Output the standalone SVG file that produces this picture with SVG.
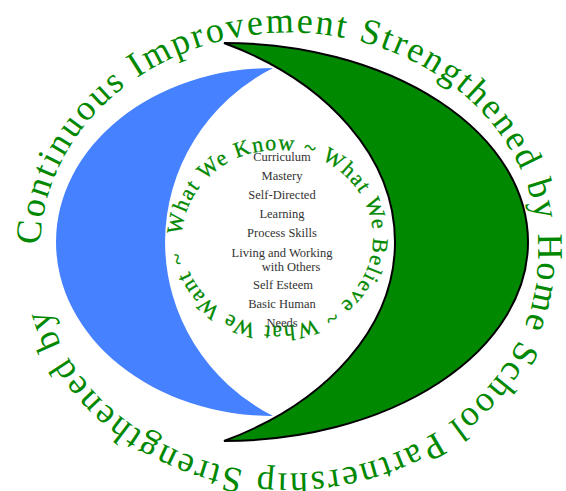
<svg xmlns="http://www.w3.org/2000/svg" width="566" height="491" viewBox="0 0 566 491">
<style>
.ring{font-family:"Liberation Serif","Times New Roman",serif;fill:#008800}
.outer{font-size:36px;letter-spacing:2.3px}
.inner{font-size:22px;letter-spacing:1.5px;stroke:#008800;stroke-width:0.3px}
.list{font-family:"Liberation Serif","Times New Roman",serif;font-size:12.5px;fill:#333;text-anchor:middle}
</style>
<defs>
<path id="outerPath" d="M40.2,245 A249,217 0 1 1 537.8,261 A249,217 0 1 1 40.2,245"/>
<path id="innerPath" d="M182,238 A95.5,88 0 1 1 373,238 A95.5,88 0 1 1 182,238"/>
</defs>
<rect width="566" height="491" fill="#fff"/>
<g id="blue-crescent">
<path d="M273,68 A217,174 0 0 0 273,416 A200,196 0 0 1 273,68 Z" fill="#4682FF"/>
</g>
<g id="green-crescent">
<path d="M224,43 A304,199 0 0 1 224,441 A320.6,225 0 0 0 224,43 Z" fill="#008800" stroke="#000" stroke-width="2" stroke-linejoin="miter"/>
</g>
<g id="outer-text">
<text class="ring outer"><textPath href="#outerPath">Continuous Improvement Strengthened by Home School Partnership Strengthened by </textPath></text>
</g>
<g id="inner-text">
<text class="ring inner"><textPath href="#innerPath" startOffset="3">What We Know ~ What We Believe ~ What We Want ~ </textPath></text>
</g>
<g id="list">
<text class="list" x="282" y="161">Curriculum</text>
<text class="list" x="282" y="180">Mastery</text>
<text class="list" x="282" y="199">Self-Directed</text>
<text class="list" x="282" y="218">Learning</text>
<text class="list" x="282" y="237">Process Skills</text>
<text class="list" x="282" y="257">Living and Working</text>
<text class="list" x="291" y="271">with Others</text>
<text class="list" x="283" y="289">Self Esteem</text>
<text class="list" x="282" y="308">Basic Human</text>
<text class="list" x="282" y="327">Needs</text>
</g>
</svg>
